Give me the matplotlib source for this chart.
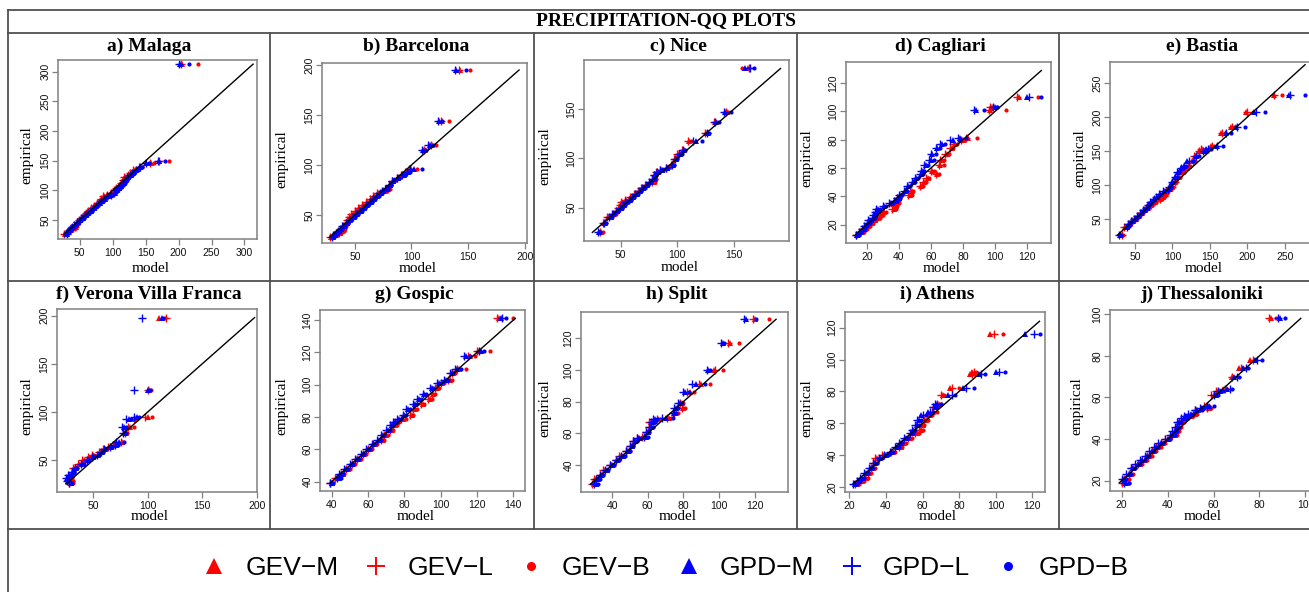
import matplotlib
matplotlib.use('Agg')
import matplotlib.pyplot as plt
from matplotlib.lines import Line2D
from matplotlib.ticker import MultipleLocator

W, H = 1309, 592

methods = ['GEV−M', 'GEV−L', 'GEV−B', 'GPD−M', 'GPD−L', 'GPD−B']
colors = ['#ff0000', '#ff0000', '#ff0000', '#0000ff', '#0000ff', '#0000ff']
markers = ['^', '+', 'o', '^', '+', 'o']

stations = ['a) Malaga', 'b) Barcelona', 'c) Nice', 'd) Cagliari', 'e) Bastia',
            'f) Verona Villa Franca', 'g) Gospic', 'h) Split', 'i) Athens', 'j) Thessaloniki']

# rows: empirical, then model quantile for GEV-M, GEV-L, GEV-B, GPD-M, GPD-L, GPD-B
malaga = [
    [27, 27, 26, 28, 30, 30, 31], [30, 31, 30, 32, 32, 32, 33], [33, 36, 35, 37, 34, 33, 35],
    [36, 41, 40, 42, 37, 36, 38], [39, 44, 43, 45, 40, 39, 41], [42, 45, 44, 46, 43, 42, 44],
    [46, 47, 46, 48, 47, 46, 48], [50, 50, 49, 51, 51, 50, 52], [54, 53, 52, 54, 55, 54, 56],
    [58, 57, 56, 58, 59, 58, 60], [62, 60, 59, 61, 63, 62, 64], [66, 63, 62, 64, 67, 66, 68],
    [70, 68, 67, 69, 71, 70, 72], [74, 73, 72, 74, 75, 74, 76], [78, 77, 76, 78, 80, 79, 81],
    [82, 81, 80, 82, 84, 83, 85], [86, 84, 83, 85, 88, 87, 89], [90, 87, 86, 88, 93, 92, 94],
    [93, 92, 91, 93, 98, 97, 99], [96, 98, 97, 99, 103, 102, 104], [100, 103, 102, 104, 106, 105, 107],
    [104, 106, 105, 107, 110, 109, 111], [108, 110, 109, 111, 113, 112, 114],
    [113, 113, 112, 114, 117, 116, 118], [118, 116, 115, 117, 120, 119, 121],
    [122, 118, 117, 120, 123, 122, 125], [126, 124, 123, 126, 128, 127, 130],
    [130, 128, 127, 131, 131, 130, 133], [134, 132, 131, 135, 136, 135, 138],
    [140, 141, 140, 145, 142, 141, 144], [147, 158, 156, 163, 151, 150, 155],
    [150, 171, 170, 186, 170, 169, 180], [313, 205, 204, 230, 202, 201, 216],
]
barcelona = [
    [28, 29, 28, 30, 31, 30, 32], [30, 33, 32, 34, 32, 31, 33], [32, 37, 36, 38, 34, 33, 35],
    [34, 39, 38, 40, 36, 35, 37], [36, 40, 39, 41, 38, 37, 39], [39, 41, 40, 42, 40, 39, 41],
    [42, 43, 42, 44, 43, 42, 44], [45, 44, 43, 45, 46, 45, 47], [48, 46, 45, 47, 49, 48, 50],
    [51, 48, 47, 49, 52, 51, 53], [54, 51, 50, 52, 55, 54, 56], [57, 54, 53, 55, 58, 57, 59],
    [60, 57, 56, 58, 61, 60, 62], [63, 61, 60, 62, 64, 63, 65], [66, 64, 63, 65, 67, 66, 68],
    [69, 67, 66, 68, 70, 69, 71], [72, 71, 70, 72, 73, 72, 74], [74, 76, 75, 78, 75, 74, 76],
    [76, 79, 78, 81, 78, 77, 79], [80, 81, 80, 82, 81, 80, 82], [84, 84, 83, 85, 84, 83, 85],
    [87, 88, 87, 89, 88, 87, 89], [90, 92, 91, 93, 93, 92, 94], [93, 95, 94, 97, 97, 96, 99],
    [96, 100, 98, 105, 102, 99, 109], [115, 112, 111, 113, 110, 109, 112],
    [120, 118, 117, 122, 116, 115, 119], [144, 127, 126, 133, 124, 123, 127],
    [195, 143, 142, 152, 139, 138, 148],
]
nice = [
    [25, 33, 32, 34, 31, 30, 32], [35, 35, 34, 36, 36, 35, 37], [41, 39, 38, 40, 41, 40, 42],
    [44, 44, 43, 46, 43, 42, 44], [47, 47, 46, 48, 47, 46, 48], [50, 49, 48, 51, 50, 49, 51],
    [53, 50, 49, 51, 53, 52, 54], [56, 51, 50, 52, 55, 54, 56], [58, 55, 54, 56, 58, 57, 59],
    [61, 59, 58, 60, 61, 60, 62], [64, 63, 62, 64, 64, 63, 65], [67, 66, 65, 67, 67, 66, 68],
    [70, 69, 68, 70, 70, 69, 71], [73, 72, 71, 73, 73, 72, 74], [76, 79, 78, 80, 76, 75, 77],
    [79, 80, 79, 81, 79, 78, 80], [83, 80, 79, 81, 80, 79, 81], [86, 82, 81, 83, 83, 82, 84],
    [88, 86, 85, 87, 86, 85, 87], [90, 91, 90, 92, 91, 90, 92], [93, 95, 94, 96, 96, 95, 97],
    [99, 98, 97, 99, 99, 98, 100], [104, 101, 100, 102, 102, 101, 104],
    [108, 105, 104, 106, 106, 105, 107], [118, 110, 109, 112, 116, 114, 122],
    [126, 125, 124, 126, 127, 126, 128], [137, 133, 132, 135, 134, 133, 137],
    [147, 144, 143, 145, 142, 141, 147], [191, 162, 163, 157, 160, 164, 168],
]
cagliari = [
    [13, 14, 13, 15, 14, 13, 15], [15, 17, 16, 18, 16, 15, 17], [17, 19, 18, 20, 18, 17, 19],
    [19, 21, 20, 22, 19, 18, 20], [21, 23, 22, 24, 21, 20, 22], [23, 25, 24, 26, 22, 21, 23],
    [25, 27, 26, 28, 24, 23, 25], [27, 29, 28, 30, 25, 24, 26], [29, 31, 30, 32, 26, 25, 27],
    [31, 37, 36, 38, 27, 26, 28], [33, 38, 37, 39, 31, 30, 32], [35, 39, 38, 40, 35, 34, 36],
    [37, 39, 38, 40, 38, 37, 39], [39, 40, 39, 41, 40, 39, 41], [41, 47, 46, 48, 41, 40, 42],
    [44, 48, 47, 49, 44, 43, 45], [47, 54, 53, 55, 46, 45, 47], [50, 56, 55, 57, 49, 48, 50],
    [53, 58, 57, 59, 51, 50, 52], [56, 64, 63, 65, 54, 53, 55], [58, 61, 60, 62, 55, 54, 56],
    [62, 66, 65, 68, 57, 56, 58], [66, 67, 66, 68, 60, 59, 62], [70, 70, 69, 71, 61, 60, 63],
    [74, 73, 72, 74, 64, 63, 66], [77, 75, 74, 76, 67, 66, 69], [80, 80, 79, 81, 74, 72, 78],
    [81, 83, 82, 89, 78, 77, 82], [101, 97, 96, 107, 88, 87, 93],
    [103, 98, 97, 101, 100, 99, 101], [110, 115, 114, 127, 120, 121, 129],
]
bastia = [
    [27, 32, 33, 34, 30, 29, 31], [39, 37, 36, 38, 40, 39, 41], [43, 43, 42, 44, 42, 41, 43],
    [47, 47, 46, 48, 46, 45, 47], [51, 51, 50, 52, 50, 49, 51], [55, 55, 54, 56, 54, 53, 55],
    [59, 59, 58, 60, 58, 57, 59], [63, 63, 62, 64, 62, 61, 63], [67, 67, 66, 68, 66, 65, 67],
    [71, 72, 71, 73, 68, 67, 69], [75, 77, 76, 78, 71, 70, 72], [79, 84, 83, 85, 76, 75, 77],
    [83, 88, 87, 89, 79, 78, 80], [87, 91, 90, 92, 83, 82, 84], [91, 93, 92, 94, 89, 88, 90],
    [95, 97, 96, 98, 95, 94, 96], [98, 100, 99, 101, 97, 96, 98],
    [104, 104, 103, 105, 100, 99, 101], [112, 109, 108, 110, 104, 103, 106],
    [120, 114, 113, 116, 107, 106, 109], [125, 117, 116, 119, 112, 111, 114],
    [128, 122, 121, 124, 116, 115, 118], [135, 126, 127, 130, 120, 122, 128],
    [143, 130, 129, 133, 132, 131, 135], [150, 136, 135, 139, 142, 141, 145],
    [153, 140, 138, 145, 145, 147, 152], [157, 152, 153, 156, 159, 160, 167],
    [176, 165, 166, 170, 171, 172, 178], [185, 178, 179, 182, 185, 186, 197],
    [208, 198, 199, 207, 209, 211, 223], [233, 235, 236, 246, 255, 257, 277],
]
verona = [
    [26, 29, 28, 31, 29, 28, 30], [28, 30, 29, 31, 27, 26, 28], [31, 29, 28, 30, 26, 25, 27],
    [34, 30, 29, 31, 28, 27, 29], [38, 31, 30, 32, 31, 30, 32], [42, 32, 31, 33, 34, 33, 35],
    [46, 37, 36, 38, 40, 39, 41], [50, 41, 40, 42, 45, 44, 46], [53, 46, 45, 47, 50, 49, 51],
    [55, 50, 49, 51, 54, 53, 55], [58, 56, 55, 57, 58, 57, 59], [61, 60, 59, 61, 61, 60, 62],
    [64, 64, 63, 65, 66, 65, 67], [66, 69, 68, 70, 71, 70, 73], [69, 76, 75, 77, 74, 71, 78],
    [78, 80, 79, 81, 79, 77, 80], [84, 84, 82, 87, 78, 76, 80], [93, 88, 87, 90, 83, 80, 85],
    [95, 100, 97, 104, 90, 87, 92], [123, 101, 100, 103, 100, 87, 102],
    [198, 110, 117, 116, 113, 95, 114],
]
gospic = [
    [39, 40, 39, 41, 40, 39, 41], [42, 43, 42, 44, 44, 43, 45], [45, 46, 45, 47, 45, 44, 46],
    [48, 49, 48, 50, 48, 47, 49], [51, 52, 51, 53, 51, 50, 52], [54, 55, 54, 56, 54, 53, 55],
    [57, 58, 57, 59, 57, 56, 58], [60, 61, 60, 62, 60, 59, 61], [63, 64, 63, 65, 63, 62, 64],
    [66, 68, 67, 69, 66, 65, 67], [69, 70, 69, 71, 68, 67, 69], [72, 73, 72, 74, 71, 70, 72],
    [75, 75, 74, 76, 73, 72, 74], [77, 76, 75, 77, 75, 74, 76], [79, 79, 78, 81, 77, 76, 78],
    [81, 84, 83, 85, 80, 79, 81], [85, 86, 85, 87, 82, 81, 83], [88, 90, 89, 91, 86, 85, 87],
    [91, 94, 93, 95, 88, 87, 89], [94, 96, 95, 97, 91, 90, 92], [98, 98, 97, 99, 95, 94, 96],
    [101, 101, 100, 102, 99, 98, 100], [103, 105, 104, 106, 103, 102, 104],
    [107, 107, 106, 108, 106, 105, 107], [110, 110, 109, 114, 109, 108, 111],
    [118, 116, 115, 119, 114, 113, 116], [121, 121, 120, 127, 122, 121, 124],
    [141, 132, 131, 140, 133, 134, 136],
]
split = [
    [28, 30, 29, 31, 31, 30, 32], [31, 31, 30, 32, 32, 31, 33], [34, 34, 33, 35, 34, 33, 35],
    [37, 36, 35, 37, 37, 36, 38], [40, 40, 39, 41, 40, 39, 41], [43, 43, 42, 44, 43, 42, 44],
    [46, 45, 44, 46, 46, 45, 47], [49, 49, 48, 50, 49, 48, 50], [52, 51, 50, 52, 51, 50, 52],
    [55, 53, 52, 54, 53, 52, 54], [57, 55, 54, 56, 55, 54, 56], [58, 58, 57, 59, 59, 58, 60],
    [61, 60, 59, 61, 60, 59, 61], [64, 62, 61, 63, 62, 61, 63], [67, 62, 61, 63, 63, 62, 64],
    [69, 66, 65, 67, 64, 63, 65], [70, 72, 71, 73, 70, 68, 74], [73, 76, 75, 77, 75, 74, 76],
    [76, 80, 79, 81, 76, 75, 77], [79, 79, 78, 80, 78, 77, 79], [86, 84, 82, 86, 81, 80, 83],
    [91, 90, 89, 95, 87, 85, 92], [100, 97, 98, 102, 94, 93, 95],
    [117, 106, 105, 111, 102, 101, 103], [132, 120, 119, 128, 115, 114, 121],
]
athens = [
    [22, 24, 23, 25, 23, 22, 24], [24, 27, 26, 28, 25, 24, 26], [26, 29, 28, 30, 27, 26, 28],
    [29, 31, 30, 32, 29, 28, 30], [32, 33, 32, 34, 32, 31, 33], [35, 34, 33, 35, 34, 33, 35],
    [38, 35, 34, 36, 37, 36, 38], [40, 39, 38, 40, 40, 39, 41], [42, 44, 43, 45, 43, 42, 44],
    [45, 48, 47, 49, 46, 45, 47], [48, 50, 49, 51, 48, 47, 49], [51, 53, 52, 54, 51, 50, 52],
    [54, 57, 56, 58, 54, 53, 55], [56, 59, 58, 60, 55, 54, 56], [59, 60, 59, 61, 57, 56, 58],
    [62, 62, 61, 63, 58, 57, 59], [65, 64, 63, 65, 59, 60, 62], [67, 66, 65, 68, 63, 64, 66],
    [70, 67, 66, 68, 67, 66, 68], [72, 69, 68, 70, 68, 67, 70], [78, 71, 70, 72, 74, 76, 78],
    [82, 75, 76, 80, 82, 84, 88], [91, 86, 87, 88, 91, 92, 94], [92, 87, 88, 89, 100, 102, 105],
    [116, 97, 99, 104, 116, 121, 124],
]
thessaloniki = [
    [19, 21, 20, 23, 22, 21, 23], [21, 22, 21, 23, 21, 20, 22], [23, 24, 23, 25, 23, 22, 24],
    [26, 25, 24, 26, 25, 24, 26], [28, 28, 27, 29, 27, 26, 28], [30, 30, 29, 31, 29, 28, 30],
    [32, 32, 31, 33, 31, 30, 32], [34, 34, 33, 35, 33, 32, 34], [36, 36, 35, 37, 35, 34, 36],
    [38, 38, 37, 39, 37, 36, 38], [40, 40, 39, 41, 40, 39, 41], [42, 43, 42, 44, 42, 41, 43],
    [44, 44, 43, 45, 43, 42, 44], [46, 45, 44, 46, 44, 43, 45], [48, 46, 45, 47, 45, 44, 46],
    [50, 48, 47, 49, 47, 46, 48], [51, 50, 49, 51, 48, 47, 49], [52, 52, 51, 53, 50, 49, 51],
    [54, 53, 52, 54, 53, 52, 55], [55, 58, 57, 59, 55, 54, 56], [56, 57, 56, 58, 58, 57, 60],
    [61, 60, 59, 61, 61, 60, 62], [63, 62, 61, 63, 63, 62, 64], [64, 64, 65, 66, 66, 67, 68],
    [70, 68, 68, 69, 69, 70, 71], [74, 71, 72, 73, 73, 74, 75], [78, 76, 77, 78, 78, 79, 81],
    [98, 85, 84, 87, 89, 88, 91],
]

station_rows = [malaga, barcelona, nice, cagliari, bastia,
                verona, gospic, split, athens, thessaloniki]
x_lims = [(17, 319), (21, 202), (17.6, 198.5), (7, 135), (16.7, 285),
          (16.6, 200.3), (33.6, 146.4), (22.6, 138.7), (17.6, 127), (14.9, 102)]
y_lims = [(18, 320), (22, 202), (16.3, 199.6), (7, 135), (15, 281),
          (16.7, 207), (34.2, 146.2), (23, 136.6), (17, 129.8), (15, 102)]
tick_steps = [50, 50, 50, 20, 50, 50, 20, 20, 20, 20]

# layout in pixels: axes boxes (x0, y0, x1, y1)
boxes = [(58, 60, 257, 239), (322, 63, 527, 243), (584, 60, 789, 241),
         (846, 62, 1051, 243), (1110, 62, 1311, 243),
         (57, 309, 257, 492), (320, 310, 525, 491), (581, 312, 788, 492),
         (845, 312, 1045, 492), (1110, 310, 1310, 491)]
ylab_off = [31, 40, 39, 39, 30, 30, 38, 36, 38, 33]
title_y = [46, 294.5]
xlab_y = [268, 516]

serif = 'Liberation Serif'
sans = 'Liberation Sans'
frame_col = '#808080'
grid_col = '#505050'

fig = plt.figure(figsize=(W / 100, H / 100), dpi=100)
fig.patch.set_facecolor('white')


def fx(x):
    return x / W


def fy(y):
    return 1 - y / H


for i, name in enumerate(stations):
    x0, y0, x1, y1 = boxes[i]
    wpx, hpx = x1 - x0, y1 - y0
    ax = fig.add_axes([fx(x0), fy(y1), wpx / W, hpx / H])
    rows = station_rows[i]
    emp = [r[0] for r in rows]
    allv = [v for r in rows for v in r]
    for k in range(6):
        mod = [r[k + 1] for r in rows]
        if markers[k] == '^':
            ax.plot(mod, emp, ls='none', marker='^', ms=4.2, color=colors[k], mew=0)
        elif markers[k] == '+':
            ax.plot(mod, emp, ls='none', marker='+', ms=5.5, mew=1.0, color=colors[k])
        else:
            ax.plot(mod, emp, ls='none', marker='o', ms=3.0, color=colors[k], mew=0)
    lo, hi = min(allv), max(allv)
    ax.plot([lo, hi], [lo, hi], color='black', lw=1.0, zorder=4)
    ax.set_xlim(*x_lims[i])
    ax.set_ylim(*y_lims[i])
    ax.xaxis.set_major_locator(MultipleLocator(tick_steps[i]))
    ax.yaxis.set_major_locator(MultipleLocator(tick_steps[i]))
    for sp in ax.spines.values():
        sp.set_color(frame_col)
        sp.set_linewidth(1.1)
    ax.tick_params(direction='out', length=4, width=0.9, color=frame_col,
                   labelsize=7.5, labelcolor='#111111')
    ax.tick_params(axis='x', pad=2.5)
    ax.tick_params(axis='y', labelrotation=90, pad=1.5)
    for lab in ax.get_xticklabels() + ax.get_yticklabels():
        lab.set_family(sans)
    for lab in ax.get_yticklabels():
        lab.set_va('center')
    ax.set_xlabel('model', family=serif, fontsize=11, va='center')
    ax.xaxis.set_label_coords(0.5 - 7 / wpx, -(xlab_y[i // 5] - y1) / hpx)
    ax.set_ylabel('empirical', family=serif, fontsize=11, va='center')
    ax.yaxis.set_label_coords(-ylab_off[i] / wpx, 0.5 - 6 / hpx)
    fig.text(fx((x0 + x1) / 2 - 8), fy(title_y[i // 5]), name, family=serif,
             fontsize=14, fontweight='bold', ha='center', va='center')

fig.text(fx(666), fy(21), 'PRECIPITATION-QQ PLOTS', family=serif, fontsize=14,
         fontweight='bold', ha='center', va='center')

# table borders
h_lines = [10, 33, 281, 529]
for yy in h_lines:
    fig.add_artist(Line2D([fx(8), fx(W)], [fy(yy), fy(yy)], color=grid_col, lw=1.3))
fig.add_artist(Line2D([fx(8), fx(8)], [fy(10), fy(H)], color=grid_col, lw=1.3))
for xx in [270, 534, 797, 1059]:
    fig.add_artist(Line2D([fx(xx), fx(xx)], [fy(33), fy(529)], color=grid_col, lw=1.3))

handles = []
for k in range(6):
    if markers[k] == '^':
        h = Line2D([], [], ls='none', marker='^', ms=11, color=colors[k], mew=0)
    elif markers[k] == '+':
        h = Line2D([], [], ls='none', marker='+', ms=13, mew=1.4, color=colors[k])
    else:
        h = Line2D([], [], ls='none', marker='o', ms=6.5, color=colors[k], mew=0)
    handles.append(h)
fig.legend(handles, methods, loc='center', bbox_to_anchor=(fx(665), fy(568)), ncol=6,
           frameon=False, prop={'family': sans, 'size': 19}, handlelength=1.0,
           handletextpad=0.67, columnspacing=0.94, borderpad=0, borderaxespad=0)

fig.savefig('out.png', dpi=100)
